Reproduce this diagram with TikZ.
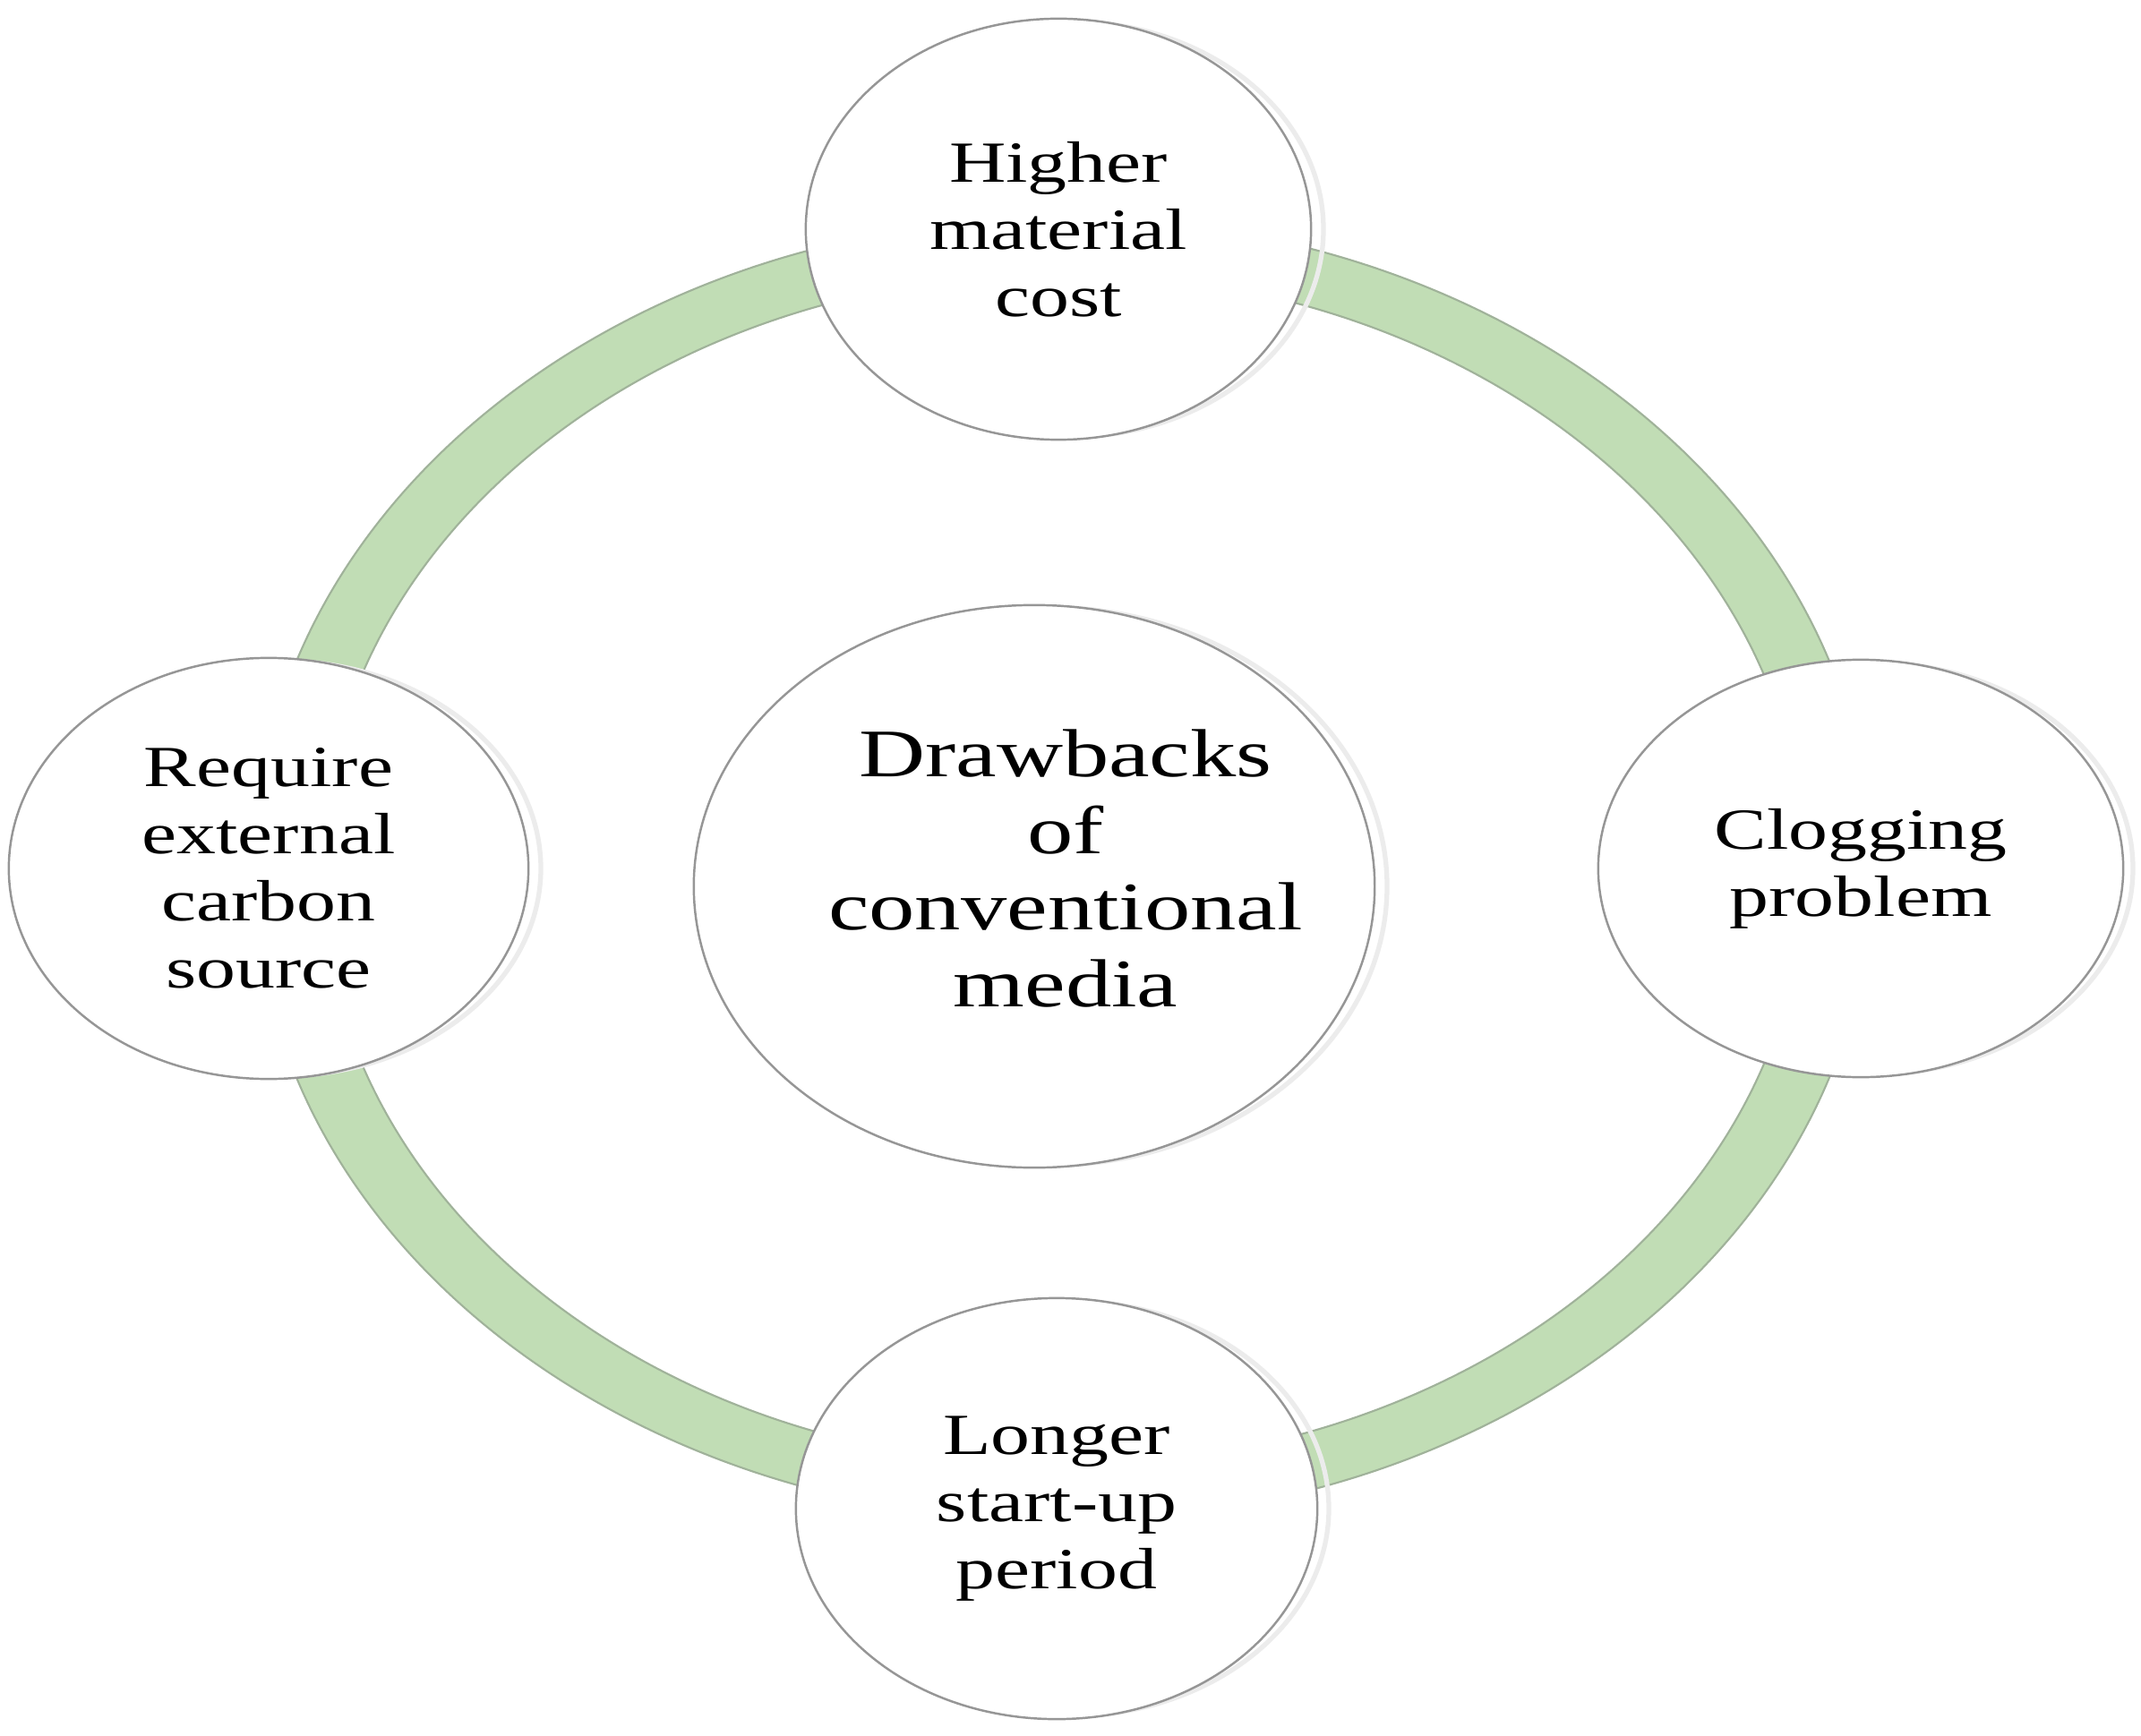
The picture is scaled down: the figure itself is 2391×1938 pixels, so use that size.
\documentclass[tikz,border=0pt]{standalone}
\usepackage{fontspec}
\setmainfont{Liberation Serif}[FakeStretch=1.35]
\usetikzlibrary{shapes.geometric}
\definecolor{ringfill}{RGB}{193,221,181}
\definecolor{ringedge}{RGB}{160,178,154}
\definecolor{bubline}{RGB}{150,150,150}
\definecolor{bubrim}{RGB}{216,216,216}
\definecolor{bubhalo}{RGB}{236,236,236}
\pgfdeclareradialshading{bubshade}{\pgfpoint{4bp}{9bp}}{color(0bp)=(white); color(40bp)=(white); color(50bp)=(bubrim)}
\begin{document}
\begin{tikzpicture}[x=0.01cm,y=0.01cm,
  bubble/.style={ellipse, shading=bubshade, draw=bubline, line width=0.7pt, inner sep=0pt, outer sep=0pt},
  halo/.style={draw=bubhalo, line width=1.5pt},
  smalltxt/.style={align=center, text=black, inner sep=0pt, font=\fontsize{18.5pt}{21.3pt}\selectfont},
  bigtxt/.style={align=center, text=black, inner sep=0pt, font=\fontsize{21.6pt}{24.4pt}\selectfont}]
\useasboundingbox (0,0) rectangle (2391,1938);
\fill[white] (0,0) rectangle (2391,1938);
% ring
\draw[fill=ringfill, draw=ringedge, line width=0.6pt, even odd rule]
  (1187,967) ellipse [x radius=903, y radius=728]
  (1187,967) ellipse [x radius=828, y radius=666];
% halos
\draw[halo] (1194,1682) ellipse [x radius=284, y radius=232];
\draw[halo] (312,968) ellipse [x radius=292, y radius=232];
\draw[halo] (2090,968) ellipse [x radius=292, y radius=230];
\draw[halo] (1192,253) ellipse [x radius=292, y radius=232];
\draw[halo] (1167,948) ellipse [x radius=382, y radius=312];
% bubbles
\node[bubble, minimum width=5.64cm, minimum height=4.7cm] (top) at (1182,1682) {};
\node[bubble, minimum width=5.8cm, minimum height=4.7cm] (left) at (300,968) {};
\node[bubble, minimum width=5.86cm, minimum height=4.66cm] (right) at (2078,968) {};
\node[bubble, minimum width=5.82cm, minimum height=4.7cm] (bottom) at (1180,253) {};
\node[bubble, minimum width=7.6cm, minimum height=6.28cm] (center) at (1155,948) {};
% texts
\node[smalltxt] (topT) at (top.center) {Higher\\material\\cost};
\node[smalltxt] (leftT) at (left.center) {Require\\external\\carbon\\source};
\node[smalltxt] (rightT) at (right.center) {Clogging\\problem};
\node[smalltxt] (bottomT) at (bottom.center) {Longer\\start-up\\period};
\node[bigtxt] (centerT) at ([shift={(35,20)}]center.center) {Drawbacks\\of\\conventional\\media};
\end{tikzpicture}
\end{document}
